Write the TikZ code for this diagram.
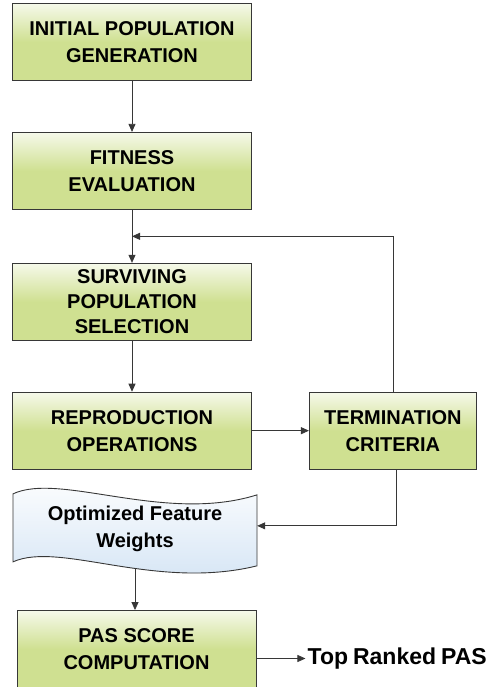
\documentclass[tikz,border=0pt]{standalone}
\usepackage{fontspec}
\setmainfont{Liberation Sans}
\usetikzlibrary{positioning,arrows.meta,calc,backgrounds}

\definecolor{boxgreen}{RGB}{207,224,145}
\definecolor{boxtop}{RGB}{246,249,234}
\definecolor{docblue}{RGB}{210,227,244}
\definecolor{edgegray}{RGB}{55,55,55}

\begin{document}
\begin{tikzpicture}[x=1pt,y=1pt,
 every node/.style={font=\bfseries\fontsize{20}{27}\selectfont},
 box/.style={draw=edgegray,line width=0.9pt,align=center,inner sep=1pt,
   minimum width=239pt,minimum height=77pt,
   top color=boxtop,bottom color=boxgreen,middle color=boxgreen},
 tapebox/.style={align=center,inner sep=1pt,minimum width=244pt,minimum height=80pt},
 tapeline/.style={draw=edgegray,line width=0.9pt,top color=white,bottom color=docblue},
 arr/.style={-{Triangle[length=8pt,width=7pt]},line width=0.8pt,draw=edgegray}]
\useasboundingbox (0,0) rectangle (494,687);
\node[box] (init) at (132,645) {INITIAL POPULATION\\GENERATION};
\node[box,below=51pt of init] (fit) {FITNESS\\EVALUATION};
\node[box,below=53pt of fit,font=\bfseries\fontsize{20}{25}\selectfont] (surv) {SURVIVING\\POPULATION\\SELECTION};
\node[box,below=51pt of surv] (repr) {REPRODUCTION\\OPERATIONS};
\node[box,minimum width=167pt,right=57pt of repr] (term) {TERMINATION\\CRITERIA};
\node[tapebox,below=19pt of repr,xshift=3pt] (weights) {Optimized Feature\\Weights};
\node[box,below=41pt of weights,xshift=1.5pt] (pas) {PAS SCORE\\COMPUTATION};
\node[right=49pt of pas,yshift=-9.5pt,inner xsep=2pt,inner ysep=0pt,
  font=\bfseries\fontsize{23}{27}\selectfont] (ranked) {\spaceskip=5pt\relax Top Ranked PAS};
% wavy tape outline behind the weights text
\begin{scope}[on background layer,shift={(weights.center)}]
\path[tapeline] (-122,35) .. controls (-75,57) and (30,5) .. (122,34)
  -- (122,-37) .. controls (20,-62) and (-75,-12) .. (-122,-33) -- cycle;
\end{scope}
\coordinate (merge) at ($(fit.south)!0.5!(surv.north)$);
\draw[arr] (init) -- (fit);
\draw[arr] (fit) -- (surv);
\draw[arr] (surv) -- (repr);
\draw[arr] (repr) -- (term);
\draw[arr] (term.north) |- (merge);
\draw[arr] ([xshift=3pt]term.south) |- ([yshift=3pt]weights.east);
\draw[arr] (weights.south) -- (weights.south |- pas.north);
\draw[arr] (pas.east |- ranked.west) -- (ranked.west);
\end{tikzpicture}
\end{document}
